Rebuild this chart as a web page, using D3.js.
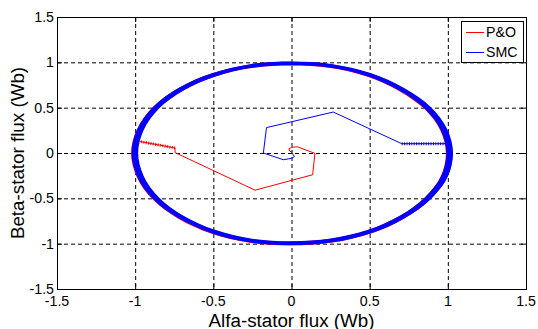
<!DOCTYPE html>
<html><head><meta charset="utf-8">
<script src="https://cdn.jsdelivr.net/npm/d3@7"></script>
<style>
body{margin:0;background:#fff}
svg{display:block}
text{font-family:"Liberation Sans",Arial,Helvetica,sans-serif;fill:#000}
</style>
</head><body>
<svg id="chart" width="538" height="329"></svg>
<script>
// axis ticks
const tickValues = [-1.5, -1, -0.5, 0, 0.5, 1, 1.5];
const tickLabels = ["-1.5", "-1", "-0.5", "0", "0.5", "1", "1.5"];
const gridValues = [-1, -0.5, 0, 0.5, 1];

// legend
const seriesNames = ["P&O", "SMC"];
const seriesColors = ["#ff0000", "#0000ff"];

// steady-state stator flux locus (middle of the ripple band), every 15 degrees
const orbitAlpha = [1.012, 0.975, 0.872, 0.708, 0.500, 0.258, 0.000, -0.258, -0.498, -0.706, -0.866, -0.966,
                    -1.002, -0.966, -0.866, -0.706, -0.500, -0.258, 0.000, 0.258, 0.500, 0.708, 0.872, 0.978];
const orbitBeta  = [0.000, 0.260, 0.498, 0.700, 0.862, 0.960, 0.988, 0.960, 0.862, 0.704, 0.500, 0.258,
                    0.000, -0.258, -0.500, -0.706, -0.866, -0.966, -0.995, -0.964, -0.866, -0.706, -0.500, -0.260];
// flux ripple half-width around the locus
const orbitRipple = 0.021;

// start-up trajectory, P&O
const pnoAlpha = [0.010, -0.010, -0.016, 0.001, 0.037, 0.150, 0.135, -0.233, -0.745, -0.745, -0.972];
const pnoBeta  = [0.010, 0.018, 0.047, 0.062, 0.069, -0.004, -0.240, -0.410, 0.005, 0.055, 0.128];
const pnoDenseFrom = 9;   // densely sampled stretch runs from this point to the end

// start-up trajectory, SMC
const smcAlpha = [0.000, 0.012, 0.018, 0.000, -0.052, -0.180, -0.160, 0.267, 0.705, 0.985];
const smcBeta  = [0.000, -0.018, -0.040, -0.059, -0.074, 0.000, 0.280, 0.452, 0.103, 0.103];
const smcDenseFrom = 8;

const svg = d3.select("#chart");
const L = 57, R = 526, T = 17, B = 289;
const x = d3.scaleLinear().domain([-1.5, 1.5]).range([L, R]);
const y = d3.scaleLinear().domain([-1.5, 1.5]).range([B, T]);

// dashed grid
const grid = svg.append("g").attr("stroke", "#000").attr("stroke-width", 1)
  .attr("stroke-dasharray", "4,3").attr("fill", "none");
gridValues.forEach(v => {
  grid.append("line").attr("x1", x(v) + 0.5).attr("x2", x(v) + 0.5).attr("y1", T).attr("y2", B);
  grid.append("line").attr("x1", L).attr("x2", R).attr("y1", y(v) + 0.5).attr("y2", y(v) + 0.5);
});

// ripple band of the steady-state locus
const orbitPts = orbitAlpha.map((a, i) => [a, orbitBeta[i]]);
const closed = d3.line().x(d => x(d[0])).y(d => y(d[1])).curve(d3.curveCatmullRomClosed.alpha(0.5));
const outer = closed(orbitPts.map(p => [p[0] * (1 + orbitRipple), p[1] * (1 + orbitRipple)]));
const inner = closed(orbitPts.map(p => [p[0] * (1 - orbitRipple), p[1] * (1 - orbitRipple)]));

svg.append("path").attr("d", outer + inner).attr("fill", seriesColors[0]).attr("fill-rule", "evenodd")
  .attr("transform", "translate(-0.5,0.3)");
svg.append("path").attr("d", outer + inner).attr("fill", seriesColors[1]).attr("fill-rule", "evenodd");

const open = d3.line().x(d => x(d[0])).y(d => y(d[1]));

function trajectory(ax, by, denseFrom, color) {
  const pts = ax.map((a, i) => [a, by[i]]);
  svg.append("path").attr("d", open(pts)).attr("fill", "none")
    .attr("stroke", color).attr("stroke-width", 1);
  // densely sampled stretch shows as a beaded line
  svg.append("path").attr("d", open(pts.slice(denseFrom))).attr("fill", "none")
    .attr("stroke", color).attr("stroke-width", 3).attr("stroke-dasharray", "1,1.4");
}
trajectory(pnoAlpha, pnoBeta, pnoDenseFrom, seriesColors[0]);
trajectory(smcAlpha, smcBeta, smcDenseFrom, seriesColors[1]);

// box
svg.append("rect").attr("x", L + 0.5).attr("y", T + 0.5).attr("width", R - L).attr("height", B - T)
  .attr("fill", "none").attr("stroke", "#000").attr("stroke-width", 1);

// inward ticks on all four sides
const ticks = svg.append("g").attr("stroke", "#000").attr("stroke-width", 1);
tickValues.forEach(v => {
  const px = x(v) + 0.5, py = y(v) + 0.5;
  ticks.append("line").attr("x1", px).attr("x2", px).attr("y1", B).attr("y2", B - 5);
  ticks.append("line").attr("x1", px).attr("x2", px).attr("y1", T).attr("y2", T + 5);
  ticks.append("line").attr("x1", L).attr("x2", L + 5).attr("y1", py).attr("y2", py);
  ticks.append("line").attr("x1", R).attr("x2", R - 5).attr("y1", py).attr("y2", py);
});

// tick labels
tickValues.forEach((v, i) => {
  svg.append("text").attr("x", x(v)).attr("y", 306).attr("text-anchor", "middle")
    .attr("font-size", 14.2).text(tickLabels[i]);
  svg.append("text").attr("x", 54).attr("y", y(v) + 5).attr("text-anchor", "end")
    .attr("font-size", 14.2).text(tickLabels[i]);
});

// axis titles
svg.append("text").attr("x", (L + R) / 2).attr("y", 326.5).attr("text-anchor", "middle")
  .attr("font-size", 18.8).text("Alfa-stator flux (Wb)");
svg.append("text").attr("transform", `translate(24,${(T + B) / 2}) rotate(-90)`)
  .attr("text-anchor", "middle").attr("font-size", 18.8).text("Beta-stator flux (Wb)");

// legend
const lg = svg.append("g");
lg.append("rect").attr("x", 461.5).attr("y", 21.5).attr("width", 62).attr("height", 41)
  .attr("fill", "#fff").attr("stroke", "#000").attr("stroke-width", 1);
seriesNames.forEach((n, i) => {
  const ly = 32 + i * 20;
  lg.append("line").attr("x1", 466).attr("x2", 484).attr("y1", ly + 0.5).attr("y2", ly + 0.5)
    .attr("stroke", seriesColors[i]).attr("stroke-width", 1);
  lg.append("text").attr("x", 486).attr("y", ly + 5).attr("font-size", 14.2).text(n);
});
</script>
</body></html>
